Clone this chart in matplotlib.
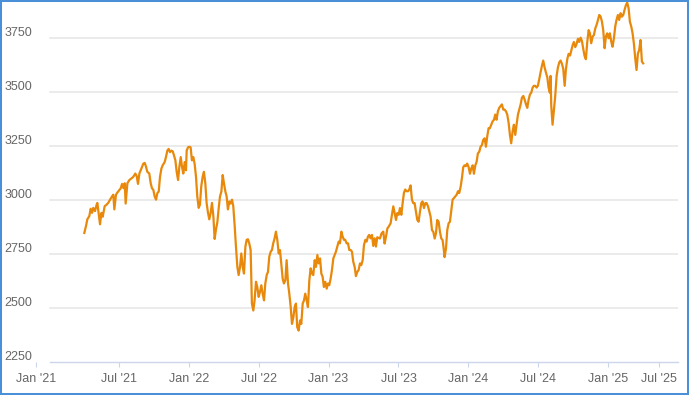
import matplotlib
matplotlib.use("Agg")
import matplotlib.pyplot as plt
from matplotlib.patches import Rectangle
from matplotlib.transforms import ScaledTranslation

# x position: months since Jan 2021 (ordinal-style axis as in the reference)
months = [
    3.03, 3.18, 3.29, 3.46, 3.58, 3.70, 3.80, 3.95, 4.09, 4.15, 4.38, 4.50, 4.61, 4.78, 4.95,
    5.12, 5.24, 5.41, 5.52, 5.61, 5.75, 5.87, 6.04, 6.16, 6.27, 6.39, 6.50, 6.58, 6.73, 6.90,
    7.07, 7.24, 7.41, 7.53, 7.64, 7.76, 7.93, 8.10, 8.22, 8.33, 8.44, 8.61, 8.73, 8.84, 8.96,
    9.07, 9.19, 9.30, 9.42, 9.53, 9.65, 9.76, 9.93, 10.04, 10.16, 10.27, 10.39, 10.50, 10.62,
    10.73, 10.85, 10.96, 11.08, 11.19, 11.31, 11.42, 11.53, 11.65, 11.76, 11.82, 11.93, 12.04,
    12.16, 12.27, 12.39, 12.50, 12.62, 12.73, 12.85, 12.96, 13.07, 13.19, 13.30, 13.42, 13.53,
    13.65, 13.76, 13.88, 13.99, 14.11, 14.22, 14.34, 14.45, 14.57, 14.68, 14.80, 14.91, 15.02,
    15.14, 15.25, 15.36, 15.48, 15.59, 15.71, 15.82, 15.94,
    16.05, 16.17, 16.28, 16.40, 16.51, 16.63, 16.74, 16.86, 16.97, 17.08, 17.19, 17.31, 17.42,
    17.54, 17.65, 17.77, 17.88, 18.00, 18.11, 18.23, 18.34, 18.46, 18.57, 18.69, 18.80, 18.91,
    19.03, 19.14, 19.25, 19.37, 19.48, 19.60, 19.72, 19.83, 19.94, 20.06, 20.17, 20.29, 20.40,
    20.52, 20.63, 20.75, 20.86, 20.98, 21.09, 21.20, 21.31, 21.43, 21.55, 21.66, 21.78, 21.89,
    22.00, 22.12, 22.23, 22.35, 22.46, 22.58, 22.69, 22.81, 22.92, 23.04, 23.15, 23.27, 23.38,
    23.49, 23.60, 23.72, 23.84, 23.95, 24.06, 24.18, 24.29, 24.41, 24.52, 24.63, 24.75, 24.87,
    24.98, 25.10, 25.21, 25.32, 25.43, 25.55, 25.67, 25.78, 25.90, 26.01, 26.12, 26.24, 26.35,
    26.47, 26.58, 26.70, 26.81, 26.93, 27.04, 27.16, 27.27, 27.38, 27.49, 27.61, 27.73, 27.84,
    27.96, 28.07, 28.18,
    28.41, 28.55, 28.70, 28.81, 28.93, 29.05, 29.16, 29.33, 29.44, 29.56, 29.67, 29.79, 29.90,
    30.02, 30.13, 30.25, 30.36, 30.47, 30.58, 30.70, 30.82, 30.93, 31.04, 31.16, 31.27, 31.39,
    31.50, 31.62, 31.73, 31.85, 31.96, 32.07, 32.19, 32.31, 32.42, 32.54, 32.65, 32.76, 32.88,
    32.99, 33.11, 33.22, 33.33, 33.45, 33.56, 33.68, 33.79, 33.90, 33.96, 34.08, 34.19, 34.31,
    34.42, 34.54, 34.65, 34.77, 34.88, 35.00, 35.11, 35.22,
    35.34, 35.45, 35.56, 35.67, 35.79, 35.90, 36.02, 36.14, 36.25, 36.37, 36.48, 36.60, 36.71,
    36.82, 36.94, 37.05, 37.17, 37.28, 37.40, 37.51, 37.62, 37.74, 37.85, 37.97, 38.08, 38.20,
    38.31, 38.42, 38.54, 38.65, 38.77, 38.88, 39.00, 39.11, 39.23, 39.34, 39.46, 39.57, 39.68,
    39.80, 39.91, 40.03, 40.14, 40.26, 40.37, 40.49, 40.60, 40.72, 40.83, 40.95, 41.06, 41.18,
    41.29, 41.40, 41.52, 41.63, 41.74, 41.86, 41.97, 42.09, 42.20, 42.32, 42.43, 42.55, 42.66,
    42.78, 42.89, 43.00, 43.06, 43.12, 43.23, 43.35, 43.46, 43.58, 43.69, 43.81, 43.92, 44.04,
    44.15, 44.27, 44.38, 44.50, 44.61, 44.73, 44.84, 44.95, 45.06, 45.18, 45.30, 45.41, 45.52,
    45.64, 45.75, 45.86, 45.98, 46.09, 46.21, 46.33, 46.44, 46.55, 46.67, 46.78, 46.90, 47.01,
    47.13, 47.24, 47.36, 47.47, 47.58, 47.70, 47.81, 47.92, 48.04, 48.15, 48.27, 48.38, 48.50,
    48.61, 48.72, 48.84, 48.95, 49.07, 49.18, 49.30, 49.41, 49.53, 49.64, 49.76, 49.87, 49.99,
    50.10, 50.21, 50.33, 50.44, 50.56, 50.67, 50.78, 50.84, 50.90, 51.01,
]

values = [
    2846, 2879, 2909, 2924, 2958, 2939, 2962, 2947, 2977, 2985, 2886, 2939, 2921, 2970, 2977,
    2988, 3000, 3015, 3023, 2955, 3023, 3033, 3045, 3053, 3073, 3053, 3076, 2982, 3076, 3091,
    3098, 3106, 3121, 3109, 3073, 3121, 3144, 3167, 3170, 3152, 3129, 3121, 3076, 3053, 3045,
    3015, 3000, 3030, 3038, 3106, 3144, 3159, 3174, 3197, 3227, 3235, 3220, 3227, 3224,
    3205, 3182, 3129, 3091, 3152, 3197, 3152, 3121, 3174, 3136, 3227, 3242, 3245,
    3242, 3182, 3197, 3167, 3106, 3015, 2962, 2977, 3061, 3106, 3129, 3076, 2985,
    2939, 2909, 2939, 2985, 2924, 2818, 2864, 2894, 2962, 3015, 3038, 3114, 3076,
    3038, 3015, 2955, 2992, 2982, 3000, 2970, 2879,
    2783, 2689, 2651, 2689, 2751, 2689, 2658, 2783, 2814, 2817, 2798, 2767, 2519,
    2487, 2534, 2620, 2596, 2550, 2573, 2604, 2565, 2534, 2612, 2651, 2666, 2736,
    2759, 2767, 2798, 2821, 2852, 2814, 2751, 2767, 2705, 2635, 2612, 2627, 2720,
    2612, 2565, 2503, 2425, 2456, 2503, 2519, 2410, 2394, 2441, 2425, 2519, 2534,
    2565, 2534, 2503, 2627, 2682, 2658, 2651, 2720, 2689, 2744, 2705, 2728, 2658,
    2643, 2596, 2620, 2588, 2612, 2604, 2635, 2674, 2728, 2744, 2759, 2783, 2806,
    2798, 2852, 2829, 2814, 2814, 2798, 2798, 2767, 2767, 2759, 2713, 2689, 2646,
    2666, 2674, 2705, 2697, 2720, 2790, 2814, 2806, 2829, 2837, 2821, 2837, 2786,
    2821, 2783, 2826,
    2820, 2844, 2852, 2797, 2828, 2867, 2875, 2891, 2930, 2969, 2938, 2906, 2938,
    2930, 2961, 2930, 2984, 3031, 3047, 3039, 3039, 3047, 3066, 3000, 2984, 2984,
    2945, 2906, 2898, 2945, 2984, 2992, 2961, 2984, 2984, 2969, 2945, 2922, 2859,
    2852, 2820, 2844, 2906, 2898, 2852, 2820, 2813, 2766, 2734, 2773, 2859, 2891,
    2898, 2953, 3000, 3008, 3016, 3023, 3039, 3031,
    3060, 3100, 3150, 3159, 3155, 3167, 3152, 3120, 3144, 3159, 3120, 3159, 3175,
    3214, 3222, 3245, 3253, 3277, 3284, 3245, 3292, 3331, 3331, 3347, 3362, 3370,
    3394, 3370, 3409, 3425, 3433, 3441, 3417, 3417, 3409, 3394, 3355, 3300, 3261,
    3316, 3347, 3300, 3347, 3394, 3417, 3441, 3472, 3480, 3464, 3441, 3425, 3464,
    3487, 3495, 3519, 3527, 3527, 3519, 3527, 3558, 3589, 3620, 3644, 3612, 3589,
    3566, 3519, 3495, 3573, 3433, 3347, 3417, 3480, 3573, 3612, 3636, 3644, 3628,
    3605, 3527, 3605, 3652, 3675, 3667, 3691, 3714, 3730, 3706, 3722, 3745, 3730,
    3750, 3735, 3700, 3665, 3650, 3730, 3785, 3770, 3724, 3755, 3762, 3793, 3809,
    3832, 3855, 3847, 3824, 3785, 3701, 3755, 3770, 3747, 3770, 3731, 3708, 3747,
    3801, 3832, 3855, 3832, 3863, 3847, 3855, 3878, 3901, 3912, 3886, 3824, 3801,
    3770, 3724, 3654, 3600, 3677, 3693, 3739, 3693, 3639, 3631,
]

y_ticks = [2250, 2500, 2750, 3000, 3250, 3500, 3750]
x_tick_pos = [-1.14, 6, 12, 18, 24, 30, 36, 42, 48, 52.39]
x_tick_labels = ["Jan '21", "Jul '21", "Jan '22", "Jul '22", "Jan '23", "Jul '23",
                 "Jan '24", "Jul '24", "Jan '25", "Jul '25"]

W, H = 689, 395
fig = plt.figure(figsize=(W / 100, H / 100), dpi=100)
left_px, right_px, top_px, bottom_px = 34, 678, 2.0, 361.7
ax = fig.add_axes([left_px / W, 1 - bottom_px / H, (right_px - left_px) / W, (bottom_px - top_px) / H])

ax.set_xlim(-1.288, 54.0)
ax.set_ylim(2250, 3915)

for s in ax.spines.values():
    s.set_visible(False)

grid_start = (50 - left_px) / (right_px - left_px)
for yv in y_ticks[1:]:
    ax.axhline(yv, xmin=grid_start, xmax=1, color="#e6e6e6", lw=1.1, zorder=1)
ax.axhline(2250, xmin=grid_start, xmax=1, color="#ccd6eb", lw=1.0, zorder=1, clip_on=False)

ax.plot(months, values, color="#e8890c", lw=1.6, zorder=3, solid_joinstyle="round")

ax.set_yticks(y_ticks)
ax.set_yticklabels([str(v) for v in y_ticks])
ax.set_xticks(x_tick_pos)
ax.set_xticklabels(x_tick_labels)

ax.tick_params(axis="y", length=0, pad=1, labelsize=9, labelcolor="#666666")
ax.tick_params(axis="x", length=3.6, width=0.8, color="#ccd6eb", pad=4.5,
               labelsize=9, labelcolor="#666666")
for lbl in ax.get_yticklabels() + ax.get_xticklabels():
    lbl.set_fontfamily("Liberation Sans")
for lbl in ax.get_yticklabels():
    lbl.set_transform(lbl.get_transform() + ScaledTranslation(0, 6.5 / 100, fig.dpi_scale_trans))

fig.patches.append(Rectangle((0, 0), 1, 1, transform=fig.transFigure, fill=False,
                             ec="#4a90d9", lw=2.9, zorder=10))

fig.savefig("out.png", dpi=100)
